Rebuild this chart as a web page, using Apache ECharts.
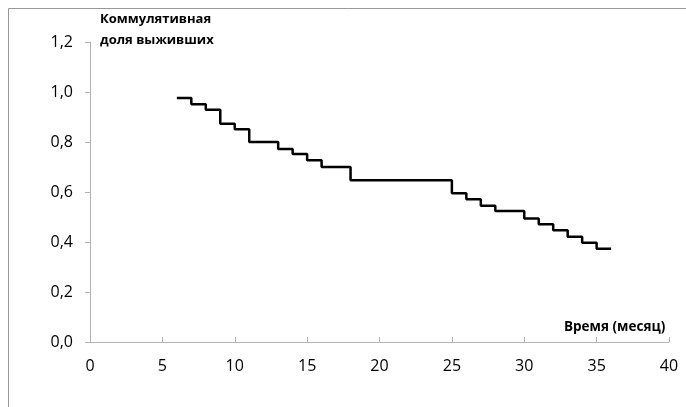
<!DOCTYPE html>
<html>
<head>
<meta charset="utf-8">
<script src="https://cdn.jsdelivr.net/npm/echarts@6/dist/echarts.min.js"></script>
<style>
html,body{margin:0;padding:0;background:#fff;}
#c{width:686px;height:407px;}
</style>
</head>
<body>
<div id="c"></div>
<script>
var times = [6, 7, 8, 9, 10, 11, 13, 14, 15, 16, 18, 25, 26, 27, 28, 30, 31, 32, 33, 34, 35, 36];
var survival = [0.976, 0.951, 0.929, 0.873, 0.851, 0.800, 0.772, 0.752, 0.727, 0.700, 0.647, 0.595, 0.571, 0.545, 0.524, 0.494, 0.471, 0.447, 0.421, 0.397, 0.373, 0.373];
var yTitle = ['Коммулятивная', 'доля выживших'];
var xTitle = 'Время (месяц)';

var FONT = 'Open Sans';
var data = times.map(function (t, i) { return [t, survival[i]]; });
var chart = echarts.init(document.getElementById('c'), null, {renderer: 'canvas'});
chart.setOption({
  animation: false,
  backgroundColor: '#fff',
  grid: {left: 90, right: 17, top: 42, bottom: 65, containLabel: false},
  xAxis: {
    type: 'value', min: 0, max: 40, interval: 5,
    axisLine: {lineStyle: {color: '#b3b3b3', width: 1}},
    axisTick: {inside: true, length: 5, lineStyle: {color: '#b3b3b3'}},
    axisLabel: {margin: 16, color: '#000', fontSize: 16, fontFamily: FONT},
    splitLine: {show: false}
  },
  yAxis: {
    type: 'value', min: 0, max: 1.2, interval: 0.2,
    axisLine: {show: true, lineStyle: {color: '#b3b3b3', width: 1}},
    axisTick: {show: true, length: 5, lineStyle: {color: '#b3b3b3'}},
    axisLabel: {margin: 17, color: '#000', fontSize: 16, fontFamily: FONT,
      formatter: function (v) { return v.toFixed(1).replace('.', ','); }},
    splitLine: {show: false}
  },
  graphic: [
    {type: 'rect', shape: {x: 8.5, y: 8.5, width: 720, height: 440}, style: {fill: 'none', stroke: '#999', lineWidth: 1}, silent: true},
    {type: 'text', left: 100, top: 13, style: {text: yTitle[0], fontSize: 13, fontWeight: 'bold', fontFamily: FONT, fill: '#000'}},
    {type: 'text', left: 100, top: 34, style: {text: yTitle[1], fontSize: 13, fontWeight: 'bold', fontFamily: FONT, fill: '#000'}},
    {type: 'text', left: 564, top: 320, style: {text: xTitle, fontSize: 13.5, fontWeight: 'bold', fontFamily: FONT, fill: '#000'}}
  ],
  series: [{
    type: 'line', step: 'end', data: data, symbol: 'none',
    lineStyle: {color: '#000', width: 2.5}
  }]
});
</script>
</body>
</html>
